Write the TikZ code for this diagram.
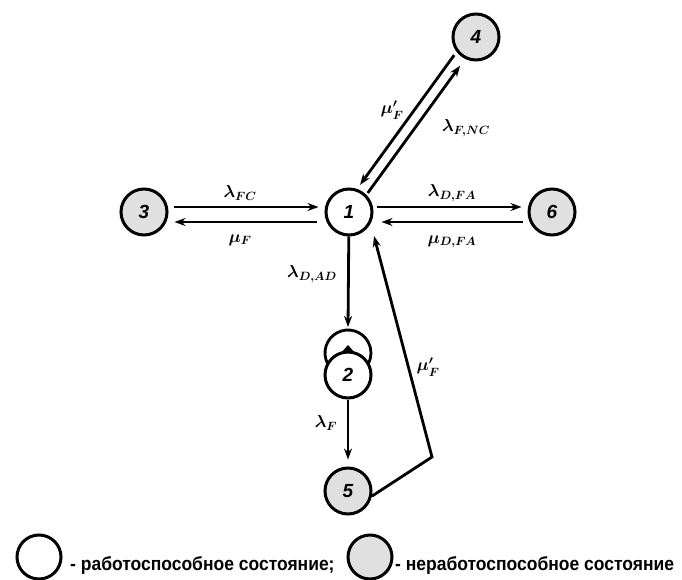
\documentclass[tikz,border=0pt]{standalone}
\usepackage{fontspec}
\setmainfont{Liberation Sans}
\usetikzlibrary{arrows.meta}
\begin{document}
\begin{tikzpicture}[x=1pt,y=-1pt,
  st/.style={circle,draw,line width=3pt,minimum size=46pt,inner sep=0pt,
    font=\fontsize{19}{19}\selectfont\bfseries\itshape},
  bad/.style={st,fill=black!12},
  arr/.style={line width=2.8pt,-{Stealth[length=11pt,width=8pt]}},
  ln/.style={line width=2.8pt},
  lbl/.style={inner sep=1pt,font=\fontsize{17}{17}\selectfont\boldmath},
  leg/.style={anchor=base west,inner sep=0pt,font=\fontsize{19}{19}\selectfont\bfseries}]
\useasboundingbox (0,0) rectangle (682,580);
% states
\node[st]  (n1) at (349,212) {1};
\node[bad] (n3) at (144,212) {3};
\node[bad] (n4) at (476,37)  {4};
\node[bad] (n6) at (552,212) {6};
\node[st]  (n2) at (348,375) {2};
\node[bad] (n5) at (348,491) {5};
% 3 <-> 1
\draw[arr,shorten <=5pt,shorten >=6pt,transform canvas={yshift=5pt}] (n3) -- (n1);
\draw[arr,shorten <=8pt,shorten >=6pt,transform canvas={yshift=-10pt}] (n1) -- (n3);
% 1 <-> 6
\draw[arr,shorten <=3pt,shorten >=6pt,transform canvas={yshift=5pt}] (n1) -- (n6);
\draw[arr,shorten <=5pt,shorten >=8pt,transform canvas={yshift=-10pt}] (n6) -- (n1);
% 1 <-> 4
\draw[arr,shorten <=3pt,shorten >=4pt,transform canvas={xshift=-5.7pt,yshift=4.1pt}] (n4) -- (n1);
\draw[arr,shorten <=2pt,shorten >=8pt,transform canvas={xshift=3.2pt,yshift=-2.4pt}] (n1) -- (n4);
% 1 -> 2 (with loop)
\coordinate (lt) at (348,327);
\draw[arr] (n1) -- (lt);
\draw[ln] (348,353) ++(152:23) arc[start angle=152,end angle=388,radius=23];
\fill (341,353) -- (348,345) -- (355,353) -- cycle;
% 2 -> 5
\draw[arr,shorten >=7pt] (n2) -- (n5);
% 5 -> 1
\coordinate (c5) at (432,457);
\coordinate (t1) at (374,236);
\draw[arr,line join=miter] (n5.-12) -- (c5) -- (t1);
% labels
\node[lbl] (l1) at (240,193) {$\lambda_{FC}$};
\node[lbl] (l2) at (240,240) {$\mu_{F}$};
\node[lbl] (l3) at (452,193) {$\lambda_{D,FA}$};
\node[lbl] (l4) at (452,242) {$\mu_{D,FA}$};
\node[lbl] (l5) at (392,110) {$\mu'_{F}$};
\node[lbl] (l6) at (466,128) {$\lambda_{F,NC}$};
\node[lbl] (l7) at (312,274) {$\lambda_{D,AD}$};
\node[lbl] (l8) at (326,423) {$\lambda_{F}$};
\node[lbl] (l9) at (428,367) {$\mu'_{F}$};
% legend
\node[st,minimum size=44pt] (g1) at (39,557) {};
\node[leg] (g1t) at (70,570) {\scalebox{0.92}[1]{- работоспособное состояние;}};
\node[bad,minimum size=44pt] (g2) at (370,557) {};
\node[leg] (g2t) at (395,570) {\scalebox{0.92}[1]{- неработоспособное состояние}};
\end{tikzpicture}
\end{document}
